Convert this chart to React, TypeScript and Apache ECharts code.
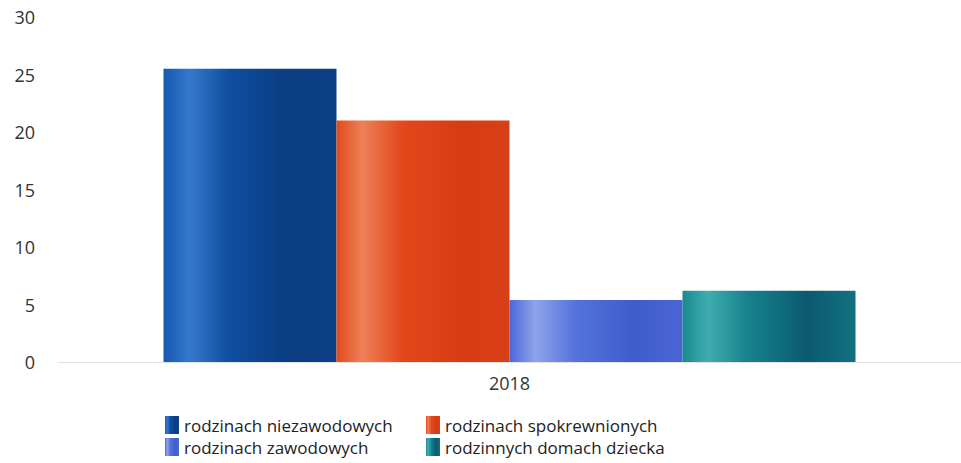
import React, { useEffect, useRef } from "react";
import * as echarts from "echarts";

const categories = ["2018"];
const seriesNames = [
  "rodzinach niezawodowych",
  "rodzinach spokrewnionych",
  "rodzinach zawodowych",
  "rodzinnych domach dziecka",
];
const niezawodowe = [25.5];
const spokrewnione = [21.0];
const zawodowe = [5.4];
const domyDziecka = [6.2];
const yTicks = [0, 5, 10, 15, 20, 25, 30];

const palettes = [
  ["#1558b0", "#3579cc", "#0f4e9e", "#0a3d82", "#0c3f85"],
  ["#e24a1c", "#ee8058", "#e3481c", "#d63c14", "#da4018"],
  ["#4a68d8", "#8ea3ea", "#5573dc", "#3f5ccc", "#4a66d4"],
  ["#1a8a92", "#40acae", "#17818c", "#0b5a72", "#127080"],
];

function grad(p: string[]) {
  return new echarts.graphic.LinearGradient(0, 0, 1, 0, [
    { offset: 0, color: p[0] },
    { offset: 0.15, color: p[1] },
    { offset: 0.38, color: p[2] },
    { offset: 0.72, color: p[3] },
    { offset: 1, color: p[4] },
  ]);
}

export default function App() {
  const ref = useRef<HTMLDivElement>(null);
  useEffect(() => {
    if (!ref.current) return;
    const chart = echarts.init(ref.current, undefined, { renderer: "svg" });
    const values = [niezawodowe, spokrewnione, zawodowe, domyDziecka];
    const font = "'Open Sans', 'Noto Sans', sans-serif";
    const legendBase = {
      orient: "vertical",
      top: 416,
      padding: 0,
      itemWidth: 14,
      itemHeight: 18,
      itemGap: 4,
      icon: "rect",
      textStyle: { fontSize: 17, color: "#222", fontFamily: font },
    };
    chart.setOption({
      animation: false,
      textStyle: { fontFamily: font },
      grid: { left: 58, right: 0, top: 17, bottom: 101 },
      legend: [
        { ...legendBase, data: [seriesNames[0], seriesNames[2]], left: 165 },
        { ...legendBase, data: [seriesNames[1], seriesNames[3]], left: 426 },
      ],
      xAxis: {
        type: "category",
        data: categories,
        axisLine: { show: true, lineStyle: { color: "#e2e2e2", width: 1 } },
        axisTick: { show: false },
        axisLabel: { fontSize: 18, color: "#333", margin: 12, fontFamily: font },
      },
      yAxis: {
        type: "value",
        min: yTicks[0],
        max: yTicks[yTicks.length - 1],
        interval: 5,
        splitLine: { show: false },
        axisLine: { show: false },
        axisTick: { show: false },
        axisLabel: { fontSize: 18, color: "#333", margin: 23, fontFamily: font },
      },
      series: seriesNames.map((name, i) => ({
        name,
        type: "bar",
        data: values[i],
        barWidth: 173,
        barGap: "0%",
        itemStyle: { color: grad(palettes[i]) },
      })),
    });
    return () => chart.dispose();
  }, []);
  return <div ref={ref} style={{ width: 961, height: 463, position: "absolute", left: 0, top: 0 }} />;
}
